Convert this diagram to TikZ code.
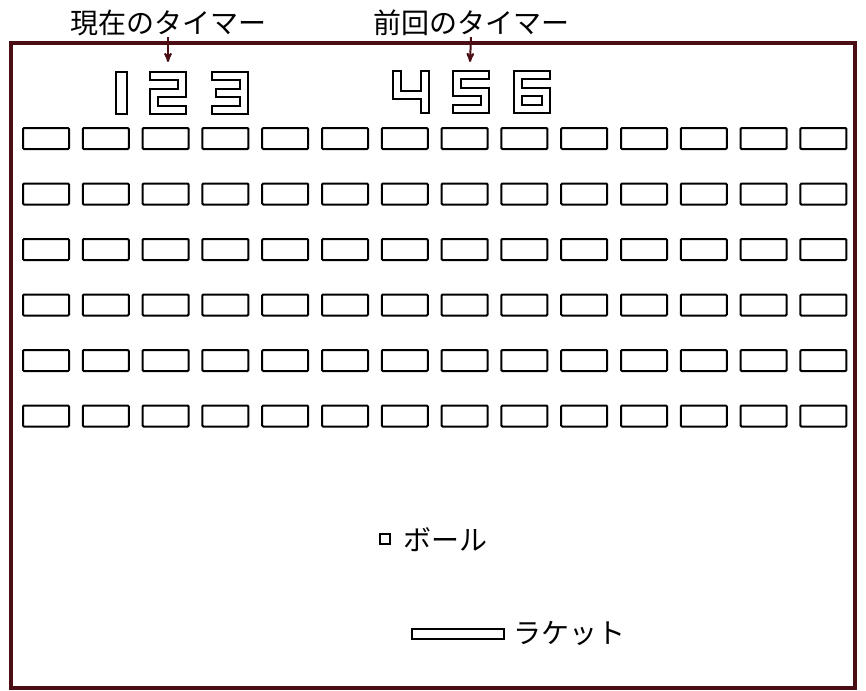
\documentclass[tikz,border=0pt]{standalone}
\usepackage{fontspec}
\setmainfont{Noto Sans CJK JP}
\usepackage{tikz}
\usetikzlibrary{arrows}
\definecolor{wallred}{RGB}{75,14,20}
\tikzset{
  jptext/.style = {inner sep=1pt, font=\fontsize{28}{30}\selectfont},
  brick/.style = {draw=black, line width=2pt, rounded corners=1pt,
    anchor=north west, minimum width=46pt, minimum height=21pt,
    inner sep=0pt},% bloc
  digit/.style = {draw=black, line width=1.8pt, line join=miter},% chiffre
  wall/.style = {draw=wallred, line width=3.4pt},% cadre
  ptr/.style = {->, >=stealth', draw=wallred, line width=2pt}
}
\begin{document}
\begin{tikzpicture}[x=1pt,y=-1pt]
\useasboundingbox (0,0) rectangle (866,690);
\draw[wall] (11,43) rectangle (855,688);
% les blocs
\foreach \r in {0,...,5}
  \foreach \c in {0,...,13}
    \node[brick] (b-\r-\c) at ({22+59.8*\c},{127+55.5*\r}) {};
% les chiffres
\draw[digit] (116,72) rectangle (127,114);
\draw[digit, shift={(150,72)}] (0,0) -- (36,0) -- (36,25) -- (8,25) -- (8,34)
  -- (36,34) -- (36,42) -- (0,42) -- (0,17) -- (28,17) -- (28,8) -- (0,8) -- cycle;
\draw[digit, shift={(212,72)}] (0,0) -- (36,0) -- (36,42) -- (0,42) -- (0,34)
  -- (28,34) -- (28,25) -- (4,25) -- (4,17) -- (28,17) -- (28,8) -- (0,8) -- cycle;
\draw[digit, shift={(393,71)}] (0,0) -- (8,0) -- (8,20) -- (28,20) -- (28,0)
  -- (36,0) -- (36,42) -- (28,42) -- (28,28) -- (0,28) -- cycle;
\draw[digit, shift={(453,71)}] (0,0) -- (36,0) -- (36,8) -- (8,8) -- (8,17)
  -- (36,17) -- (36,42) -- (0,42) -- (0,34) -- (28,34) -- (28,25) -- (0,25) -- cycle;
\draw[digit, shift={(514,71)}] (0,0) -- (36,0) -- (36,8) -- (8,8) -- (8,17)
  -- (36,17) -- (36,42) -- (0,42) -- cycle
  (8,25) -- (28,25) -- (28,34) -- (8,34) -- cycle;
\coordinate (d2) at (168,62);
\coordinate (d5) at (470,62);
% les textes
\node[jptext] (now) at (168,23) {現在のタイマー};
\node[jptext] (prev) at (471,23) {前回のタイマー};
\draw[ptr] (now.south) -- (d2);
\draw[ptr] (prev.south) -- (d5);
\node[draw=black, line width=1.6pt, minimum size=10pt, inner sep=0pt] (ball) at (385,539) {};
\node[jptext, anchor=west] (balltxt) at (402,540) {ボール};
\node[draw=black, line width=1.6pt, minimum width=92pt, minimum height=10pt,
  inner sep=0pt] (racket) at (458,634) {};
\node[jptext, anchor=west] (rackettxt) at (512,633) {ラケット};
\end{tikzpicture}
\end{document}
